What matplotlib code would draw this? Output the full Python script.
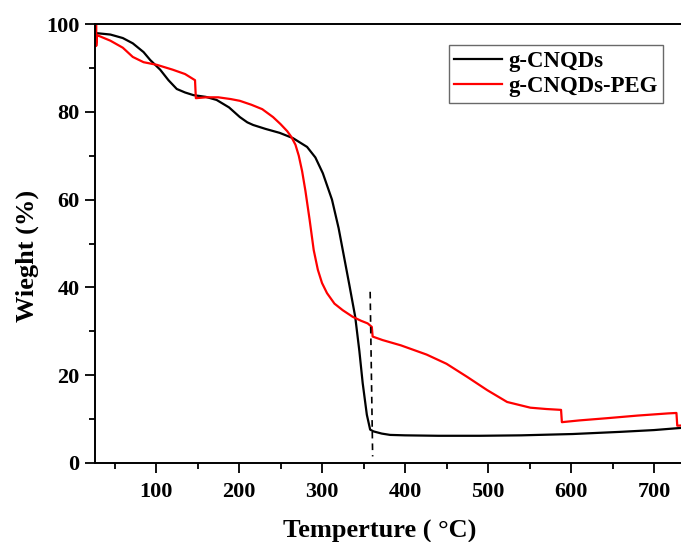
import matplotlib
matplotlib.use("Agg")
import matplotlib.pyplot as plt
from matplotlib.ticker import MultipleLocator

# --- DATA ---
t_cnqd = [29, 45, 60, 72, 85, 93, 105, 115, 125, 135, 145, 160, 173, 188, 201, 210,
          217, 232, 249, 265, 282, 292, 301, 312, 320, 325, 333, 340, 345, 349, 354,
          358, 362, 372, 382, 400, 440, 490, 540, 602, 660, 700, 733]
w_cnqd = [97.9, 97.6, 96.8, 95.6, 93.6, 91.8, 89.6, 87.2, 85.2, 84.4, 83.8, 83.4, 82.7,
          81.0, 78.8, 77.6, 77.0, 76.1, 75.2, 74.0, 72.0, 69.6, 66.0, 60.0, 53.5, 48.5,
          40.5, 33.3, 25.5, 18.2, 11.0, 7.6, 7.2, 6.7, 6.4, 6.3, 6.2, 6.2, 6.3, 6.6, 7.1,
          7.5, 8.0]

t_peg = [28, 28, 29, 31, 45, 60, 72, 85, 101, 120, 135, 147, 148, 160, 175, 190, 201,
         215, 228, 241, 250, 258, 263, 268, 272, 276, 280, 285, 290, 295, 300, 306, 315,
         325, 337, 347, 355, 360, 361, 373, 395, 426, 450, 475, 499, 523, 551, 570, 588,
         589, 610, 643, 680, 717, 727, 728, 740]
w_peg = [100, 95, 97.5, 97.3, 96.2, 94.6, 92.5, 91.3, 90.7, 89.6, 88.6, 87.2, 83.1,
         83.3, 83.3, 82.9, 82.5, 81.6, 80.6, 78.8, 77.2, 75.6, 74.3, 72.5, 70.0, 66.5,
         62.0, 55.5, 48.5, 44.0, 41.0, 38.7, 36.3, 34.8, 33.3, 32.4, 31.8, 31.0, 28.8,
         28.0, 26.8, 24.7, 22.6, 19.6, 16.6, 13.9, 12.6, 12.3, 12.1, 9.3, 9.7, 10.2,
         10.8, 11.3, 11.4, 8.5, 8.6]

dash_t = [358, 361]
dash_w = [39, 1.5]

labels = ["g-CNQDs", "g-CNQDs-PEG"]

plt.rcParams['font.family'] = ['Liberation Serif', 'DejaVu Serif']
plt.rcParams['font.weight'] = 'bold'

fig = plt.figure(figsize=(6.81, 5.42), dpi=100)
ax = fig.add_axes([95 / 681, 79 / 542, 586 / 681, 439 / 542])

ax.plot(t_cnqd, w_cnqd, color='black', lw=1.6, label=labels[0])
ax.plot(t_peg, w_peg, color='#ff0000', lw=1.6, label=labels[1])
ax.plot(dash_t, dash_w, color='black', lw=1.2, ls=(0, (4, 3)))

ax.set_xlim(26.5, 732.5)
ax.set_ylim(0, 100)
ax.xaxis.set_major_locator(MultipleLocator(100))
ax.xaxis.set_minor_locator(MultipleLocator(50))
ax.yaxis.set_major_locator(MultipleLocator(20))
ax.yaxis.set_minor_locator(MultipleLocator(10))
ax.tick_params(which='major', direction='out', length=7, width=1.3, labelsize=16)
ax.tick_params(which='minor', direction='out', length=4, width=1.3)
ax.tick_params(axis='x', which='major', pad=7)
ax.tick_params(axis='y', which='major', pad=4)
ax.spines['right'].set_visible(False)
for s in ['left', 'bottom', 'top']:
    ax.spines[s].set_linewidth(1.4)
for lab in ax.get_xticklabels() + ax.get_yticklabels():
    lab.set_fontweight('bold')

ax.set_xlabel("Temperture ( \u00b0C)", fontsize=19, fontweight='bold')
ax.set_ylabel("Wieght (%)", fontsize=19, fontweight='bold')
ax.xaxis.set_label_coords(0.486, -0.13)
ax.yaxis.set_label_coords(-0.095, 0.4715)

leg = ax.legend(loc='upper right', bbox_to_anchor=((663 - 95) / 586, (463 - 45) / 439),
                fontsize=16.4, frameon=True, fancybox=False, handlelength=2.1,
                handletextpad=0.25, borderpad=0.25, labelspacing=0.2, borderaxespad=0)
leg.get_frame().set_edgecolor('#444444')
leg.get_frame().set_linewidth(1.0)
for txt in leg.get_texts():
    txt.set_fontweight('bold')

fig.savefig("out.png", dpi=100)
